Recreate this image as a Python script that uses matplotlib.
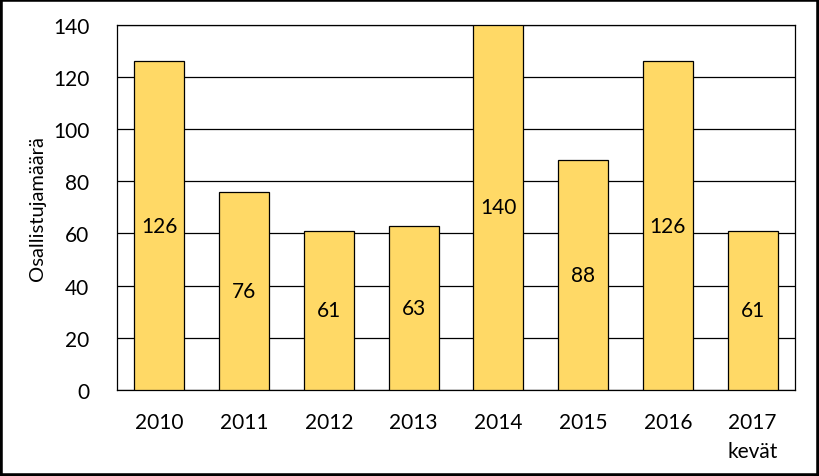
import numpy as np
import matplotlib.pyplot as plt
from matplotlib.patches import Rectangle

plt.rcParams['font.family'] = ['Lato', 'DejaVu Sans']

years = ['2010', '2011', '2012', '2013', '2014', '2015', '2016', '2017\nkevät']
counts = [126, 76, 61, 63, 140, 88, 126, 61]

fig = plt.figure(figsize=(8.19, 4.77), dpi=100)
ax = fig.add_axes([117/819, 1 - 391/477, (795-117)/819, (391-25.5)/477])

x = np.arange(len(years))
bars = ax.bar(x, counts, width=0.59, color='#FFD966', edgecolor='black', linewidth=0.9, zorder=3)
for xi, v in zip(x, counts):
    ax.text(xi, v / 2, str(v), ha='center', va='center', fontsize=15, zorder=4)

ax.set_xlim(-0.5, len(years) - 0.5)
ax.set_ylim(0, 140)
ax.set_yticks(range(0, 141, 20))
ax.set_xticks(x)
ax.set_xticklabels(years, fontsize=15, linespacing=1.55, va='top')
ax.tick_params(axis='y', labelsize=15, length=0, pad=20)
ax.tick_params(axis='x', length=0, pad=16)
ax.yaxis.grid(True, color='black', linewidth=0.9, zorder=0)
for s in ax.spines.values():
    s.set_linewidth(0.9)
ax.set_ylabel('Osallistujamäärä', fontsize=14.5, labelpad=0)
ax.yaxis.set_label_coords(-0.105, 0.5)

fig.patches.append(Rectangle((0, 0), 1, 1, transform=fig.transFigure, fill=False,
                             edgecolor='black', linewidth=4))

fig.savefig('out.png', dpi=100)
